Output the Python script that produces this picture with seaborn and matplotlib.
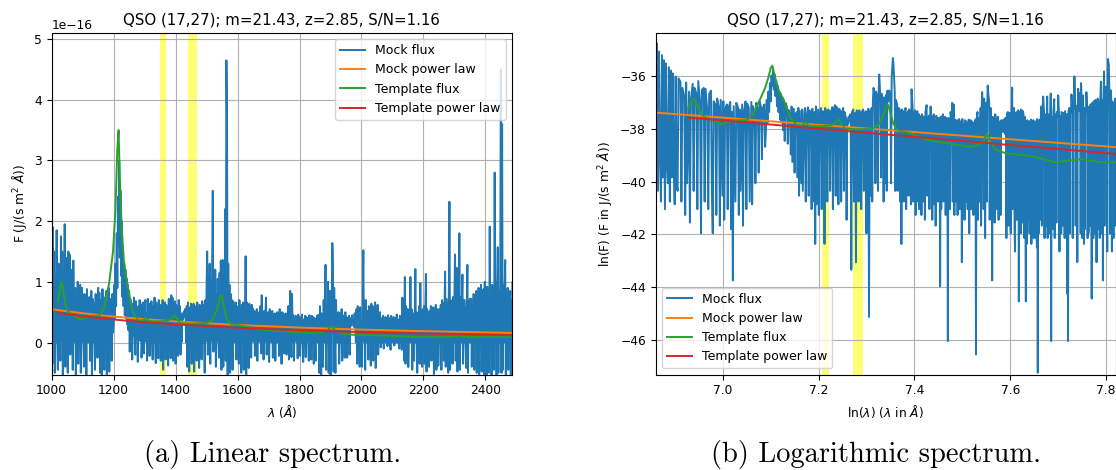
import numpy as np
import matplotlib
matplotlib.use("Agg")
import matplotlib.pyplot as plt
import seaborn as sns

TITLE = "QSO (17,27); m=21.43, z=2.85, S/N=1.16"

# Mock spectrum, sampled every 2 Å from 952 Å; flux in units of 1e-18 J/(s m^2 Å)
lam_start, lam_step = 952, 2
flux_0952_1050 = [1150, 6, 820, 3, 600, 12, 2, 520, 5, 430, 1.5, 380, 8, 4, 330, 2, 290, 5,
                  260, 9, 1.8, 230, 4, 3, 215,
                  -35, 190, 2, 150, -50, 110, 1.2, 185, 4, -45, 130, 0.9, 95, -30, 175, 3, 150,
                  -55, 120, 1.5, 195, -40, 85, 0.6, 140]
flux_1052_1150 = [-50, 150, 2, 145, -20, 60, 1.5, 120, -45, 135, 3, 0.6, 90, -55, 80, 1.2, 100,
                  -35, 70, 0.8, 95, -50, 2.5, 90, 1,
                  65, -40, 80, 1.5, 70, -55, 88, 0.7, 60, 0.1, 75, -30, 2, 85, -60, 72, 1.2, 66,
                  3, -45, 80, 0.8, 58, -25, 90]
flux_1152_1250 = [1.5, 82, -50, 70, 2, -62, 88, 1.8, 75, -45, 60, 4, 85, -58, 65, 6, 90, -48,
                  72, 10, 68, -30, 80, 16,
                  30, 95, 40, 130, 60, 180, 90, 240, 160, 300, 140, 250, 110, 200, 75, 160, 60,
                  130, 45, 120, 40, 105, 30, 95, 20, 85]
flux_1252_1350 = [-15, 72, 18, 65, -28, 50, 12, 74, 9, -20, 68, 6, 55, -32, 60, 5, 70, 2.5,
                  62, -25, 4, 66, 3, -18, 58,
                  70, 2, 48, -30, 72, 2.5, 64, -22, 56, 1.5, 68, 2, -28, 60, 0.4, 74, 1.8, -34,
                  66, 1.2, 52, -26, 70, 1.5, 62]
flux_1352_1450 = [-30, 60, 0.4, 70, -45, 55, 2, 66, -28, 62, 3, 58, -38, 72, 1.5, 64, -26, 78,
                  2.5, 74,
                  -30, 60, 1.8, 68, -35, 62, 2, 56, -22, 70, 3, 60, -20, 48, 1, 45, 38, 50, 42, 55,
                  48, 0.15, 60, -40, 66, 2, -48, 58, 0.2, 64]
flux_1452_1550 = [-35, 58, 2, 64, -48, 52, 1.5, 60, -30, 66, 3, 55, -42, 62, 0.6, 50, -28, 68,
                  0.025, 62, 2.5, -50, 70, 2, 90,
                  150, -20, 110, 4, 130, -35, 100, 3, 120, 250, -15, 95, 5, 120, -40, 80, 2, 105,
                  4, -25, 115, 3, 135, -45, 90]
flux_1552_1650 = [136, -40, 100, 4, 220, -30, 465, 365, -55, 130, 3, 95, -50, 80, 3, 70, -45,
                  68, 2, 62,
                  0.4, 66, -28, 58, 2, 60, -35, 70, 1.5, 55, -50, 62, 2.5, 66, -45, 55, 1.8, 142,
                  -60, 66,
                  2, 58, -42, 64, 1.2, 50, -25, 62, 2, 56]
flux_1652_1750 = [1.5, 52, -22, 48, 1.2, 55, -30, 44, 2, 50, 1, 60, -18, 78, 2.5, 45, -28, 52,
                  1.5, 48, 74, -20, 40, 1, 50,
                  -32, 55, 1.8, 44, 0.8, 52, -25, 46, 2, 48, -30, 42, 0.08, 50, 1.5, 46, -22, 55,
                  2, 40, -35, 50, 1.2, 48, -18]
flux_1752_1850 = [45, 0.01, 48, -20, 40, 1.5, 60, -28, 42, 85, 2, -24, 80, 1.2, 45, -30, 38, 2,
                  44, 1.2, 40, -26, 46, 1.5, 42,
                  -22, 40, 0.2, 46, 1.8, -32, 38, 1, 44, -24, 42, 2, 40, 1.5, -30, 45, 0.6, 38,
                  -28, 44, 1.5, 42, -35, 40, 1.2]
flux_1852_1950 = [-30, 40, 1.5, 45, 0.006, 45, -50, 60, 1, -55, 48, 2, -40, 70, 0.8, 55, 128,
                  -45, 60, 1.5,
                  100, -50, 0.5, 85, -55, 2, 70, 164, 125, -48, 90, 1, -50, 70, 1.5, 45, 0.1, 50,
                  -35, 1.2,
                  48, 0.9, 55, -30, 45, 1.5, 42, -25, 50, 1]
flux_1952_2050 = [42, -25, 38, 1.2, 44, -20, 40, 35, 28, 45, 30, 38, 26, 48, 32, 0.5, 55, -35,
                  60, 0.8, 50, -40, 58, 1.2, 0.6,
                  -40, 62, 152, 1.5, 58, -45, 70, 0.7, 0.3, 52, -28, 60, 1, 55, -38, 64, 0.045,
                  60, -30, 50, 0.6, 66, -42, 55, 0.9]
flux_2052_2150 = [62, -20, 45, 0.5, 50, -8, 0.045, 40, 0.4, 44, -10, 38, 1, 42, 0.6, 36, -6, 45,
                  0.4, 40, 0.8, -12, 44, 0.5, 38,
                  0.7, 42, -5, 0.5, 40, 0.35, 46, 0.003, 38, 0.6, -10, 44, 1, 40, -12, 74, 0.8, 50,
                  -30, 108, -35, 60, 0.5, 55, -40]
flux_2152_2250 = [-40, 55, 0.8, 108, 0.5, 55, -45, 48, 0.6, -30, 50, 121, 0.01, 50, -50, 45,
                  0.7, 60, -35, 98,
                  0.5, 48, -40, 55, 0.9, 60, -35, 50, 113, -48, 55, 0.3, 45, -40, 52, 0.6, 60,
                  -30, 48, 0.8,
                  58, -52, 50, 0.5, 62, -45, 0.7, 55, -38, 0.06]
flux_2252_2350 = [55, 0.01, 62, -45, 70, 0.6, 65, -30, 58, 117, -40, 72, 0.5, 65, -50, 78, 232,
                  -45, 70, 0.8,
                  60, -35, 75, 0.2, 68, 145, -30, 62, 123, -48, 72, 0.6, 180, -45, 75, 0.5, 66,
                  112, -35, 0.4,
                  70, 0.7, 58, -42, 64, 128, -50, 68, 0.5, 72]
flux_2352_2450 = [0.6, 72, -40, 60, 0.8, 80, -45, 66, 0.05, 85, -50, 70, 0.5, 90, -55, 75, 0.6,
                  95, -48, 68,
                  0.2, 88, -60, 100, 0.7, 78, -55, 92, 0.5, 70, -50, 191, 0.6, 88, -60, 95, 0.1,
                  82, -45, 280,
                  0.8, 100, -55, 90, 157, -50, 85, 0.3, 110, 450]
flux_2452_2490 = [-50, 360, -45, 95, 0.6, 80, 136, -55, 70, 0.3, 90, -45, 75, 0.5, 85, -60, 70,
                  0.8, 100, 55]

# Template spectrum (same units)
template_lam = [1020, 1026, 1031, 1036, 1043, 1053, 1070, 1093, 1110, 1130, 1153, 1168,
                1185, 1198, 1206, 1212, 1216, 1220, 1226, 1233, 1240, 1250, 1261, 1280,
                1296, 1304, 1312, 1324, 1350, 1375, 1388, 1396, 1404, 1414, 1450, 1500,
                1520, 1532, 1543, 1549, 1556, 1566, 1580, 1620, 1677, 1730, 1785, 1833,
                1870, 1890, 1903, 1915, 1937, 1979, 2061, 2100, 2195, 2260, 2322, 2370,
                2418, 2490]
template_flux = [68, 88, 100, 90, 65, 51, 44, 38, 41, 44, 44, 55,
                 96, 150, 220, 320, 350, 270, 190, 135, 110, 80, 51, 36,
                 37, 41, 36, 35, 35, 36, 40, 45, 40, 32, 31, 32,
                 38, 52, 76, 78, 58, 38, 30, 27, 21, 19, 17.4, 16,
                 17, 20, 27, 20, 14.6, 12.5, 11.6, 11, 8.9, 9.5, 10, 9.3,
                 8.9, 8.9]

# Fitted power-law continua, evaluated at a few wavelengths
mock_pl_lam = [953, 1000, 1050, 1100, 1150, 1200, 1300, 1400, 1600, 1800, 2000, 2200, 2490]
mock_pl_flux = [58.7, 55.0, 51.4, 48.3, 45.4, 42.8, 38.4, 34.7, 28.9, 24.6, 21.3, 18.7, 15.8]
template_pl_lam = [1020, 1050, 1100, 1150, 1200, 1300, 1400, 1600, 1800, 2000, 2200, 2490]
template_pl_flux = [48.7, 46.6, 43.3, 40.4, 37.9, 33.4, 29.8, 24.2, 20.2, 17.1, 14.8, 12.2]

# Excluded wavelength windows (Å)
windows = [(1350, 1370), (1440, 1470)]

UNIT = 1e-18
blocks = [flux_0952_1050, flux_1052_1150, flux_1152_1250, flux_1252_1350, flux_1352_1450,
          flux_1452_1550, flux_1552_1650, flux_1652_1750, flux_1752_1850, flux_1852_1950,
          flux_1952_2050, flux_2052_2150, flux_2152_2250, flux_2252_2350, flux_2352_2450,
          flux_2452_2490]
mock_flux = np.concatenate([np.asarray(b, float) for b in blocks]) * UNIT
mock_lam = lam_start + lam_step * np.arange(mock_flux.size, dtype=float)

series = [
    ("Mock flux", mock_lam, mock_flux, "#1f77b4"),
    ("Mock power law", np.asarray(mock_pl_lam, float), np.asarray(mock_pl_flux) * UNIT, "#ff7f0e"),
    ("Template flux", np.asarray(template_lam, float), np.asarray(template_flux) * UNIT, "#2ca02c"),
    ("Template power law", np.asarray(template_pl_lam, float),
     np.asarray(template_pl_flux) * UNIT, "#d62728"),
]

TICK = 8.8
fig = plt.figure(figsize=(11.16, 4.70), dpi=100)
ax_lin = fig.add_axes([0.0463, 0.2028, 0.4125, 0.7270])
ax_log = fig.add_axes([0.5875, 0.2028, 0.4125, 0.7270])

for label, lam, flux, color in series:
    sns.lineplot(x=lam, y=flux, ax=ax_lin, color=color, label=label,
                 estimator=None, sort=False, linewidth=1.4)
    pos = flux > 0
    sns.lineplot(x=np.log(lam[pos]), y=np.log(flux[pos]), ax=ax_log, color=color,
                 label=label, estimator=None, sort=False, linewidth=1.4)

for lo, hi in windows:
    ax_lin.axvspan(lo, hi, color="yellow", alpha=0.55, lw=0, zorder=0.6)
    ax_log.axvspan(np.log(lo), np.log(hi), color="yellow", alpha=0.55, lw=0, zorder=0.6)

ax_lin.set_xlim(1000, 2486)
ax_lin.set_ylim(-0.53e-16, 5.10e-16)
ax_lin.set_xticks(np.arange(1000, 2401, 200))
ax_lin.set_xlabel(r"$\lambda$ ($\AA$)", fontsize=TICK)
ax_lin.set_ylabel(r"F (J/(s m$^2$ $\AA$))", fontsize=TICK)
ax_lin.legend(loc="upper right", fontsize=9)

ax_log.set_xlim(6.860, 7.8205)
ax_log.set_ylim(-47.33, -34.35)
ax_log.set_xticks([7.0, 7.2, 7.4, 7.6, 7.8])
ax_log.set_yticks([-46, -44, -42, -40, -38, -36])
ax_log.set_xlabel(r"ln($\lambda$) ($\lambda$ in $\AA$)", fontsize=TICK)
ax_log.set_ylabel(r"ln(F) (F in J/(s m$^2$ $\AA$))", fontsize=TICK)
ax_log.legend(loc="lower left", fontsize=9)

for ax in (ax_lin, ax_log):
    ax.set_title(TITLE, fontsize=10.8)
    ax.grid(True, color="#b0b0b0", linewidth=0.8)
    ax.tick_params(labelsize=TICK)
ax_lin.yaxis.get_offset_text().set_fontsize(TICK)

fig.text(0.2446, 0.034, "(a) Linear spectrum.", fontfamily="cmr10", fontsize=20.5,
         ha="center", va="center")
fig.text(0.785, 0.034, "(b) Logarithmic spectrum.", fontfamily="cmr10", fontsize=20.5,
         ha="center", va="center")

fig.savefig("out.png", dpi=100)
